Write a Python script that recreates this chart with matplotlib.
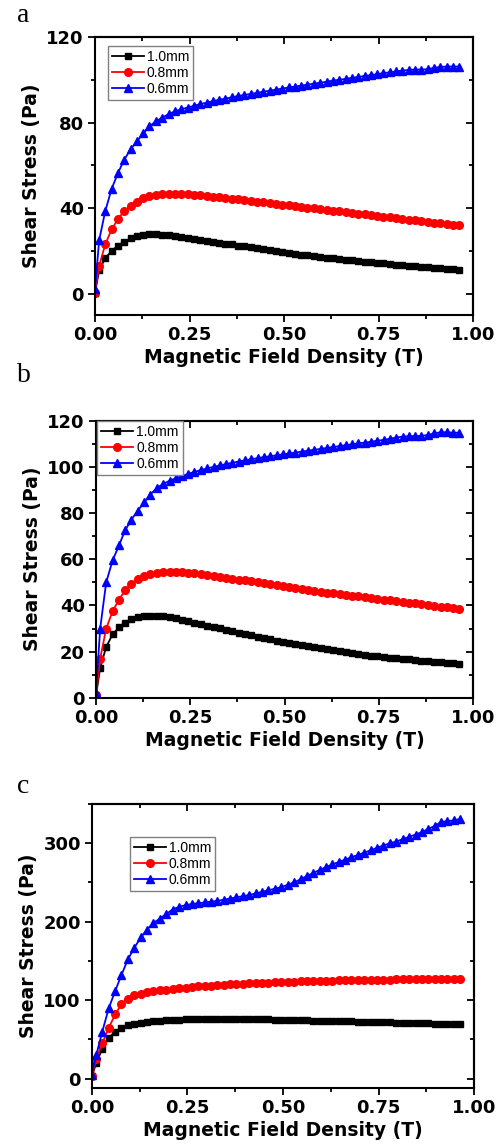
import matplotlib
matplotlib.use("Agg")
import matplotlib.pyplot as plt
from matplotlib.ticker import MultipleLocator, NullFormatter

plt.rcParams['font.family'] = ['DejaVu Sans']

# magnetic field density (T), shared by all three panels
field = [0, 0.011, 0.027, 0.044, 0.061, 0.077, 0.094, 0.111, 0.128, 0.144,
         0.161, 0.178, 0.195, 0.211, 0.228, 0.245, 0.261, 0.278, 0.295, 0.312,
         0.328, 0.345, 0.362, 0.378, 0.395, 0.412, 0.429, 0.445, 0.462, 0.479,
         0.496, 0.512, 0.529, 0.546, 0.562, 0.579, 0.596, 0.613, 0.629, 0.646,
         0.663, 0.679, 0.696, 0.713, 0.730, 0.746, 0.763, 0.780, 0.796, 0.813,
         0.830, 0.847, 0.863, 0.880, 0.897, 0.914, 0.930, 0.947, 0.964]

labels = ['1.0mm', '0.8mm', '0.6mm']

# panel a
a_10 = [0.5, 11, 16.5, 20, 22.5, 24.3, 25.8, 26.8, 27.4, 27.7,
        27.8, 27.6, 27.3, 26.9, 26.5, 26.1, 25.7, 25.2, 24.8, 24.3,
        23.9, 23.4, 23.0, 22.5, 22.1, 21.6, 21.2, 20.8, 20.3, 19.9,
        19.5, 19.1, 18.7, 18.3, 17.9, 17.6, 17.2, 16.9, 16.5, 16.2,
        15.9, 15.6, 15.3, 15.0, 14.7, 14.4, 14.1, 13.8, 13.6, 13.3,
        13.0, 12.8, 12.5, 12.3, 12.0, 11.8, 11.5, 11.3, 11.1]
a_08 = [0.5, 13, 23, 30, 35, 38.5, 41, 43, 44.5, 45.5,
        46.1, 46.5, 46.7, 46.7, 46.6, 46.4, 46.1, 45.9, 45.6, 45.3,
        45.0, 44.7, 44.4, 44.1, 43.7, 43.4, 43.0, 42.7, 42.3, 42.0,
        41.6, 41.3, 40.9, 40.6, 40.2, 39.9, 39.5, 39.2, 38.8, 38.5,
        38.1, 37.8, 37.4, 37.1, 36.7, 36.4, 36.0, 35.7, 35.3, 35.0,
        34.6, 34.3, 33.9, 33.6, 33.2, 32.9, 32.5, 32.2, 31.9]
a_06 = [2, 25, 38.5, 49, 56.5, 62.5, 67.5, 71.3, 75, 78.3,
        80.5, 82.3, 84, 85.2, 86.2, 87.0, 87.8, 88.6, 89.3, 90.0,
        90.6, 91.2, 91.8, 92.4, 92.9, 93.4, 93.9, 94.4, 94.9, 95.4,
        95.9, 96.4, 96.8, 97.3, 97.7, 98.2, 98.6, 99.1, 99.6, 100.0,
        100.4, 100.9, 101.3, 101.8, 102.2, 102.6, 103.1, 103.5, 103.9, 104.3,
        104.6, 104.8, 104.8, 104.9, 105.6, 106.0, 106.2, 106.2, 106.2]

# panel b
b_10 = [1, 13, 22, 27.5, 30.5, 32.6, 34, 34.9, 35.4, 35.6,
        35.6, 35.3, 34.9, 34.4, 33.8, 33.2, 32.6, 32.0, 31.3, 30.7,
        30.1, 29.4, 28.8, 28.2, 27.6, 27.0, 26.4, 25.9, 25.3, 24.8,
        24.3, 23.8, 23.3, 22.8, 22.3, 21.9, 21.4, 21.0, 20.6, 20.2,
        19.8, 19.4, 19.0, 18.7, 18.3, 18.0, 17.7, 17.4, 17.1, 16.8,
        16.6, 16.3, 16.1, 15.8, 15.6, 15.4, 15.2, 15.0, 14.8]
b_08 = [1, 17, 30, 37.5, 42.5, 46.5, 49.3, 51.3, 52.7, 53.6,
        54.2, 54.5, 54.6, 54.6, 54.4, 54.2, 53.9, 53.6, 53.2, 52.8,
        52.4, 52.0, 51.6, 51.2, 50.8, 50.4, 50.0, 49.6, 49.2, 48.8,
        48.4, 48.0, 47.6, 47.2, 46.8, 46.4, 46.0, 45.6, 45.3, 44.9,
        44.6, 44.2, 43.9, 43.5, 43.2, 42.9, 42.5, 42.2, 41.9, 41.5,
        41.2, 40.9, 40.5, 40.2, 39.9, 39.5, 39.2, 38.8, 38.5]
b_06 = [2, 30, 50, 59.5, 66, 72.5, 77.2, 81.1, 84.7, 88,
        90.8, 92.6, 94, 95, 96, 97, 97.8, 98.6, 99.3, 100,
        100.6, 101.2, 101.8, 102.3, 102.8, 103.3, 103.8, 104.2, 104.6, 105,
        105.4, 105.8, 106.2, 106.6, 107, 107.4, 107.8, 108.2, 108.6, 109,
        109.4, 109.8, 110.2, 110.5, 110.9, 111.3, 111.7, 112.2, 112.7, 113.1,
        113.3, 113.3, 113.4, 113.8, 114.5, 115, 115, 114.8, 114.8]

# panel c
c_10 = [3, 20, 38, 52, 60, 65, 68, 70, 71.5, 72.5,
        73.3, 74, 74.5, 75, 75.3, 75.6, 75.8, 76, 76.1, 76.2,
        76.2, 76.2, 76.2, 76.1, 76, 75.9, 75.8, 75.6, 75.5, 75.3,
        75.1, 74.9, 74.7, 74.5, 74.3, 74.1, 73.9, 73.7, 73.5, 73.3,
        73.1, 72.9, 72.7, 72.5, 72.3, 72.1, 71.9, 71.7, 71.5, 71.3,
        71.1, 70.9, 70.7, 70.5, 70.3, 70.1, 69.9, 69.7, 69.5]
c_08 = [3, 25, 45, 65, 82, 95, 102, 106, 108.5, 110,
        111.5, 112.5, 113.5, 114.5, 115.3, 116, 116.8, 117.5, 118, 118.6,
        119.1, 119.6, 120, 120.5, 121, 121.3, 121.7, 122, 122.4, 122.7,
        123, 123.3, 123.6, 123.9, 124.1, 124.4, 124.6, 124.8, 125, 125.2,
        125.4, 125.5, 125.7, 125.8, 126, 126.1, 126.2, 126.3, 126.4, 126.5,
        126.5, 126.6, 126.6, 126.6, 126.6, 126.6, 126.5, 126.5, 126.4]
c_06 = [5, 30, 60, 90, 112, 132, 152, 167, 180, 190,
        198.5, 204, 210, 215.5, 219, 221, 222.5, 223.5, 224.5, 225.5,
        226.5, 228, 229.5, 231, 232.5, 234, 236, 238, 240, 242,
        244, 247, 250, 254, 258, 262, 266, 269.5, 273, 276,
        279, 282, 285, 288, 291, 294, 297, 300, 302, 305,
        308, 311, 314, 318, 322, 327, 328, 329, 331]

colors = ['black', 'red', 'blue']
markers = ['s', 'o', '^']
msizes = [5, 5.5, 6]

fig = plt.figure(figsize=(5.04, 11.46), dpi=100)

panels = [
    ('a', [0.1885, 0.7251, 0.75, 0.2426], [a_10, a_08, a_06], (-10, 120), 40, 20,
     (0.034, 0.968), (0.034, 0.997)),
    ('b', [0.1905, 0.3911, 0.748, 0.2418], [b_10, b_08, b_06], (0, 120), 20, 10,
     (0.003, 0.999), (0.034, 0.683)),
    ('c', [0.1825, 0.0505, 0.758, 0.248], [c_10, c_08, c_06], (-12, 350), 100, 50,
     (0.099, 0.885), (0.034, 0.325)),
]

for letter, rect, series, ylim, major, minor, leg_pos, letter_pos in panels:
    ax = fig.add_axes(rect)
    for y, lab, c, m, ms in zip(series, labels, colors, markers, msizes):
        ax.plot(field, y, color=c, marker=m, markersize=ms, linewidth=1.3, label=lab)
    ax.set_xlim(0, 1)
    ax.set_ylim(*ylim)
    ax.xaxis.set_major_locator(MultipleLocator(0.25))
    ax.xaxis.set_minor_locator(MultipleLocator(0.125))
    ax.yaxis.set_major_locator(MultipleLocator(major))
    ax.yaxis.set_minor_locator(MultipleLocator(minor))
    ax.set_xticks(ax.get_xticks())
    ax.set_xticklabels([f'{v:.2f}' for v in ax.get_xticks()])
    ax.set_xlim(0, 1)
    for s in ax.spines.values():
        s.set_linewidth(1.5)
    ax.tick_params(which='both', direction='out', width=1.3)
    ax.tick_params(which='major', length=5, labelsize=13, pad=3)
    ax.tick_params(which='minor', length=3)
    for lbl in ax.get_xticklabels() + ax.get_yticklabels():
        lbl.set_fontweight('bold')

    # top and right ticks point inward
    top = ax.secondary_xaxis('top')
    top.xaxis.set_major_locator(MultipleLocator(0.25))
    top.xaxis.set_minor_locator(MultipleLocator(0.125))
    top.xaxis.set_major_formatter(NullFormatter())
    right = ax.secondary_yaxis('right')
    right.yaxis.set_major_locator(MultipleLocator(major))
    right.yaxis.set_minor_locator(MultipleLocator(minor))
    right.yaxis.set_major_formatter(NullFormatter())
    for sec in (top, right):
        sec.tick_params(which='both', direction='in', width=1.3)
        sec.tick_params(which='major', length=5)
        sec.tick_params(which='minor', length=3)
        for s in sec.spines.values():
            s.set_linewidth(1.5)

    ax.set_xlabel('Magnetic Field Density (T)', fontsize=13.5, fontweight='bold', labelpad=3)
    ax.set_ylabel('Shear Stress (Pa)', fontsize=13.5, fontweight='bold', labelpad=4)
    leg = ax.legend(loc='upper left', bbox_to_anchor=leg_pos, borderaxespad=0,
                    prop={'family': ['Liberation Sans', 'DejaVu Sans'], 'size': 10},
                    handlelength=2.3, handletextpad=0.2,
                    labelspacing=0.15, borderpad=0.3, fancybox=False,
                    framealpha=1, edgecolor='gray')
    leg.get_frame().set_linewidth(1.0)
    fig.text(letter_pos[0], letter_pos[1], letter, fontsize=20,
             family=['Liberation Serif', 'DejaVu Serif'], va='top', ha='left')

fig.savefig('out.png', dpi=100)
